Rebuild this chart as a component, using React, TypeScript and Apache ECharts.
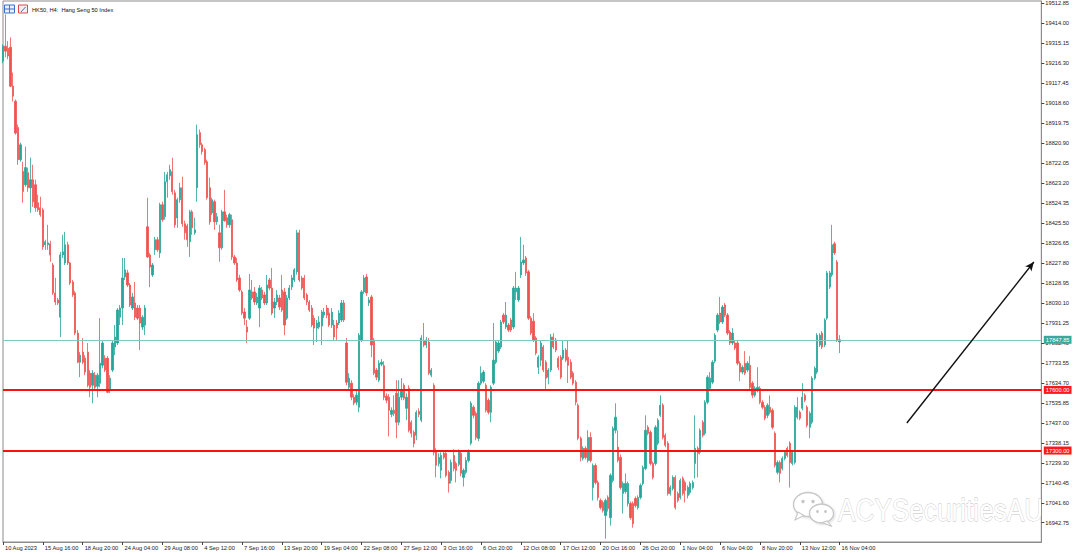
import { useEffect, useRef } from 'react';
import * as echarts from 'echarts';

// [open, close, low, high] per 4-hour bar
const candles: number[][] = [
  [19227,19301,19216,19310],[19301,19276,19246,19458],[19290,19252,19236,19326],[19295,19103,19098,19344],
  [19103,19053,19027,19170],[19028,18871,18863,19037],[18898,18739,18714,18913],[18739,18813,18729,18823],
  [18681,18582,18526,18729],[18615,18700,18605,18804],[18675,18600,18580,18700],[18600,18640,18476,18749],
  [18640,18531,18506,18714],[18615,18501,18481,18640],[18526,18491,18481,18566],[18501,18467,18457,18556],
  [18491,18308,18293,18501],[18318,18333,18293,18343],[18318,18328,18293,18417],[18323,18268,18234,18338],
  [18218,18080,18070,18228],[18080,18035,18020,18154],[18045,18030,18020,18055],[17960,18268,17861,18283],
  [18268,18283,18253,18367],[18228,18318,18218,18382],[18318,18228,18218,18333],[18228,18129,18119,18233],
  [18134,18070,18060,18144],[18080,17881,17871,18090],[17881,17737,17732,17896],[17737,17772,17663,17787],
  [17787,17737,17727,17856],[17757,17688,17673,17772],[17787,17623,17613,17832],[17683,17613,17564,17698],
  [17623,17683,17534,17698],[17673,17613,17603,17688],[17618,17673,17564,17683],[17633,17732,17613,17955],
  [17722,17832,17707,17847],[17757,17698,17688,17772],[17757,17588,17584,17767],[17598,17658,17584,17673],
  [17698,17832,17688,17847],[17812,17862,17772,17921],[17832,17995,17822,18005],[17960,18005,17921,18020],
  [18005,18154,17921,18253],[18159,18194,18144,18253],[18179,18119,18109,18194],[18119,18020,18010,18129],
  [18005,18060,17995,18080],[18030,17960,17946,18134],[18005,17955,17946,18020],[18005,17931,17797,18020],
  [17911,17960,17896,17970],[17921,18005,17871,18020],[18407,18258,18253,18551],[18268,18208,18109,18278],
  [18169,18218,18159,18228],[18293,18343,18268,18357],[18343,18293,18283,18357],[18278,18516,18253,18526],
  [18516,18442,18432,18531],[18457,18630,18442,18679],[18630,18665,18551,18679],[18660,18690,18640,18714],
  [18680,18580,18566,18749],[18575,18417,18402,18590],[18451,18541,18402,18551],[18541,18600,18526,18625],
  [18600,18422,18407,18655],[18422,18377,18343,18437],[18412,18343,18308,18422],[18333,18481,18258,18491],
  [18481,18402,18367,18491],[18377,18392,18367,18452],[18600,18863,18531,18913],[18873,18813,18798,18888],
  [18813,18779,18764,18823],[18789,18724,18714,18798],[18729,18551,18541,18739],[18600,18432,18417,18650],
  [18476,18541,18466,18551],[18531,18432,18392,18541],[18432,18457,18417,18476],[18377,18303,18234,18417],
  [18303,18481,18293,18491],[18481,18437,18432,18590],[18452,18417,18402,18467],[18417,18467,18402,18476],
  [18442,18258,18243,18467],[18258,18228,18218,18268],[18228,18144,18134,18253],[18154,18094,18085,18169],
  [18085,17980,17970,18094],[17985,17955,17921,18005],[17911,17886,17832,17946],[17955,18094,17946,18174],
  [18085,18055,18045,18144],[18085,18035,18020,18109],[18030,18060,18020,18080],[18005,18104,17911,18119],
  [18094,18055,18045,18109],[18070,18030,18020,18085],[18030,18119,18020,18169],[18144,18104,18094,18154],
  [18104,17980,17970,18203],[18005,18035,17956,18055],[18035,18070,18020,18094],[18055,18010,17995,18070],
  [18094,17995,17985,18169],[18085,17921,17871,18104],[17955,18055,17946,18070],[18055,18104,18045,18119],
  [18109,18154,18094,18169],[18144,18194,18134,18203],[18184,18377,18170,18392],[18377,18144,18134,18392],
  [18154,18104,18094,18164],[18154,18055,18045,18169],[18070,18035,18020,18080],[18035,17995,17985,18045],
  [18005,17921,17911,18020],[17955,17906,17822,17970],[17906,17931,17837,17946],[17911,17936,17901,17965],
  [17916,17985,17822,17995],[17970,17985,17955,18005],[18005,17970,17955,18020],[17980,17921,17911,18005],
  [17921,17985,17906,18005],[17921,17862,17847,17946],[17931,17906,17842,17946],[17931,17980,17921,17995],
  [17946,18030,17936,18045],[18030,17946,17936,18045],[17832,17638,17623,17857],[17613,17658,17598,17683],
  [17633,17564,17549,17648],[17564,17534,17524,17579],[17539,17574,17524,17598],[17514,17871,17489,17881],
  [17847,18085,17837,18094],[18085,18154,18075,18169],[18159,18080,18065,18174],[18030,18045,18015,18060],
  [18060,17822,17762,18070],[17847,17683,17673,17857],[17698,17663,17648,17708],[17648,17732,17638,17747],
  [17727,17737,17717,17752],[17720,17564,17549,17742],[17569,17549,17534,17583],[17564,17499,17370,17579],
  [17479,17499,17465,17514],[17499,17484,17470,17573],[17583,17440,17361,17648],[17440,17564,17425,17648],
  [17564,17598,17549,17658],[17623,17559,17549,17633],[17509,17564,17450,17583],[17608,17400,17390,17623],
  [17440,17385,17365,17450],[17390,17335,17316,17400],[17375,17489,17351,17499],[17494,17479,17465,17509],
  [17450,17857,17440,17871],[17842,17822,17812,17931],[17822,17847,17807,17862],[17837,17683,17673,17857],
  [17673,17698,17663,17708],[17623,17291,17276,17633],[17301,17227,17167,17311],[17236,17266,17221,17286],
  [17202,17276,17162,17291],[17286,17266,17256,17301],[17286,17177,17167,17301],[17192,17137,17092,17202],
  [17152,17241,17137,17256],[17276,17211,17197,17306],[17236,17202,17142,17246],[17231,17296,17221,17306],
  [17286,17187,17172,17301],[17167,17202,17122,17211],[17192,17251,17182,17266],[17251,17291,17241,17306],
  [17336,17534,17326,17544],[17514,17474,17460,17524],[17484,17365,17351,17494],[17360,17633,17346,17643],
  [17633,17683,17623,17717],[17643,17688,17633,17698],[17623,17499,17489,17633],[17549,17489,17479,17559],
  [17489,17613,17440,17623],[17633,17747,17623,17931],[17737,17837,17727,17847],[17792,17832,17782,17842],
  [17812,17936,17802,17946],[17970,17936,17926,17980],[17911,17970,17901,18035],[17921,17896,17886,17931],
  [17946,17896,17886,17956],[17911,18104,17901,18114],[18085,18104,18045,18184],[18045,18104,18035,18114],
  [18169,18233,18154,18357],[18228,18243,18218,18318],[18253,18179,18164,18263],[18184,17955,17946,18194],
  [17955,17881,17871,17965],[17940,17847,17837,17980],[17857,17782,17772,17866],[17712,17762,17678,17772],
  [17747,17832,17717,17842],[17812,17698,17688,17822],[17737,17658,17598,17747],[17663,17698,17628,17708],
  [17698,17862,17688,17877],[17862,17812,17802,17881],[17847,17797,17787,17857],[17757,17712,17698,17767],
  [17762,17663,17653,17772],[17757,17797,17747,17847],[17797,17747,17737,17807],[17762,17722,17634,17847],
  [17737,17663,17653,17752],[17683,17633,17623,17693],[17638,17539,17524,17648],[17524,17361,17351,17534],
  [17361,17266,17246,17370],[17261,17311,17251,17321],[17311,17266,17256,17321],[17251,17365,17241,17400],
  [17365,17251,17241,17390],[17117,17226,17053,17236],[17226,17142,17132,17236],[17142,17068,17053,17152],
  [17053,17018,17008,17063],[17043,17003,16993,17053],[16978,17053,16864,17063],[17068,17013,16998,17078],
  [16968,17177,16928,17187],[17152,17410,17142,17420],[17400,17465,17385,17534],[17316,17251,17241,17400],
  [17266,17117,17107,17281],[17087,17137,16988,17147],[17097,17137,17087,17187],[17038,17137,17023,17147],
  [17038,16968,16958,17048],[17038,16938,16918,17048],[17063,17028,17018,17073],[17018,17068,17008,17078],
  [17068,17127,17058,17137],[17137,17216,17127,17226],[17211,17400,17202,17474],[17415,17385,17375,17425],
  [17390,17236,17226,17400],[17236,17167,17157,17246],[17236,17415,17226,17425],[17336,17450,17326,17460],
  [17474,17524,17465,17573],[17524,17365,17355,17534],[17375,17326,17316,17385],[17336,17087,17077,17346],
  [17087,17117,17077,17127],[17112,17167,17102,17177],[17167,17018,17008,17177],[17087,17053,17043,17097],
  [17068,17152,17058,17162],[17162,17087,17077,17172],[17142,17102,17043,17152],[17078,17117,17063,17127],
  [17092,17137,17082,17147],[17117,17142,17107,17152],[17236,17311,17162,17474],[17311,17286,17167,17321],
  [17291,17400,17281,17410],[17440,17375,17365,17450],[17385,17539,17375,17549],[17539,17663,17529,17673],
  [17608,17658,17598,17688],[17638,17737,17628,17747],[17742,17871,17732,17881],[17896,17970,17886,17980],
  [17980,17936,17926,18060],[17936,18010,17926,18020],[18020,17970,17960,18030],[17970,17881,17871,17980],
  [17886,17832,17822,17896],[17832,17881,17822,17906],[17832,17807,17797,17842],[17832,17732,17722,17842],
  [17732,17688,17643,17742],[17688,17712,17678,17722],[17732,17683,17673,17792],[17698,17732,17688,17742],
  [17722,17613,17603,17767],[17633,17574,17559,17643],[17574,17608,17564,17618],[17598,17613,17588,17712],
  [17608,17539,17529,17618],[17539,17514,17504,17549],[17514,17460,17450,17524],[17474,17524,17460,17534],
  [17514,17489,17479,17573],[17499,17415,17405,17509],[17385,17227,17216,17395],[17192,17241,17182,17251],
  [17241,17187,17142,17251],[17211,17261,17202,17271],[17261,17291,17251,17301],[17311,17276,17266,17321],
  [17336,17241,17117,17346],[17236,17291,17226,17301],[17241,17514,17231,17524],[17465,17514,17455,17564],
  [17489,17460,17450,17499],[17509,17564,17499,17633],[17573,17549,17539,17583],[17514,17425,17415,17524],
  [17415,17484,17361,17494],[17440,17658,17430,17668],[17658,17707,17648,17717],[17688,17871,17678,17881],
  [17822,17871,17812,17881],[17881,17812,17802,17891],[17822,17946,17812,17955],[17955,18179,17946,18189],
  [18109,18179,18099,18189],[18169,18318,18159,18417],[18323,18278,18268,18333],[18233,17847,17837,18243],
  [17837,17848,17782,17871],
];

const timeLabels = [
  '10 Aug 2023', '15 Aug 16:00', '18 Aug 20:00', '24 Aug 04:00', '29 Aug 08:00', '4 Sep 12:00',
  '7 Sep 16:00', '13 Sep 20:00', '19 Sep 04:00', '22 Sep 08:00', '27 Sep 12:00', '3 Oct 16:00',
  '6 Oct 20:00', '12 Oct 08:00', '17 Oct 12:00', '20 Oct 16:00', '26 Oct 20:00', '1 Nov 04:00',
  '6 Nov 04:00', '8 Nov 20:00', '13 Nov 12:00', '16 Nov 04:00',
];
const barsPerTimeLabel = 16;
const totalSlots = 418; // bars plus empty right shift

const priceTicks = [
  19512.85, 19414.0, 19315.15, 19216.3, 19117.45, 19018.6, 18919.75, 18820.9, 18722.05,
  18623.2, 18524.35, 18425.5, 18326.65, 18227.8, 18128.95, 18030.1, 17931.25, 17832.4,
  17733.55, 17634.7, 17535.85, 17437.0, 17338.15, 17239.3, 17140.45, 17041.6, 16942.75,
];
const priceMin = 16847.4;
const priceMax = 19524.3;

const bidPrice = 17847.85;
const levelPrices = [17600, 17300];
const arrowFrom = [363, 17436];
const arrowTo = [414, 18233];

const FONT = '"Liberation Sans", Arial, sans-serif';

export default function App() {
  const ref = useRef<HTMLDivElement>(null);
  useEffect(() => {
    document.body.style.margin = '0';
    const chart = echarts.init(ref.current!, null, { renderer: 'svg' });
    const categories = Array.from({ length: totalSlots }, (_, i) => String(i));
    const showTime = (i: number) => i % barsPerTimeLabel === 0 && i / barsPerTimeLabel < timeLabels.length;

    const tagLabel = (bg: string) => ({
      show: true,
      position: 'end',
      distance: 2.5,
      formatter: (p: any) => Number(p.value).toFixed(2),
      color: '#ffffff',
      fontSize: 5.7,
      fontFamily: FONT,
      backgroundColor: bg,
      padding: [1, 2, 1, 2],
    });

    const wechatStroke = '#c6c6c6';
    const shadow = { shadowColor: 'rgba(0,0,0,0.15)', shadowBlur: 2, shadowOffsetX: 1, shadowOffsetY: 1 };

    chart.setOption({
      animation: false,
      backgroundColor: '#ffffff',
      textStyle: { fontFamily: FONT },
      grid: { left: 3, right: 38.7, top: 1, bottom: 15, show: true, borderColor: '#8c8c8c', borderWidth: 1, backgroundColor: '#ffffff' },
      xAxis: {
        type: 'category',
        data: categories,
        boundaryGap: false,
        axisLine: { show: true, lineStyle: { color: '#8c8c8c', width: 1 } },
        axisTick: { show: true, interval: (i: number) => showTime(i), length: 3, lineStyle: { color: '#444' } },
        axisLabel: {
          interval: (i: number) => showTime(i),
          formatter: (_v: string, i: number) => timeLabels[i / barsPerTimeLabel] ?? '',
          align: 'left',
          padding: [0, 0, 0, 2],
          margin: 3,
          fontSize: 5.7,
          color: '#1a1a1a',
          fontFamily: FONT,
        },
        splitLine: { show: false },
      },
      yAxis: {
        type: 'value',
        position: 'right',
        min: priceMin,
        max: priceMax,
        axisLine: { show: true, lineStyle: { color: '#8c8c8c', width: 1 } },
        axisTick: { show: true, customValues: priceTicks, length: 3, lineStyle: { color: '#444' } },
        axisLabel: {
          customValues: priceTicks,
          formatter: (v: number) => v.toFixed(2),
          fontSize: 5.7,
          margin: 4,
          color: '#1a1a1a',
          fontFamily: FONT,
        },
        splitLine: { show: false },
      },
      series: [
        {
          type: 'candlestick',
          data: candles,
          barWidth: 1.8,
          silent: true,
          itemStyle: {
            color: '#26a69a',
            color0: '#ef5350',
            borderColor: 'rgba(38,166,154,0.8)',
            borderColor0: 'rgba(239,83,80,0.8)',
            borderWidth: 1,
          },
          markLine: {
            silent: true,
            symbol: ['none', 'none'],
            animation: false,
            data: [
              { yAxis: bidPrice, lineStyle: { color: '#7fc9c0', width: 1, type: 'solid' }, label: tagLabel('#3aa99c') },
              ...levelPrices.map((p) => ({
                yAxis: p,
                lineStyle: { color: '#ff1010', width: 2, type: 'solid' },
                label: tagLabel('#ff1a1a'),
              })),
              [
                { coord: arrowFrom, symbol: 'none' },
                {
                  coord: arrowTo,
                  symbol: 'arrow',
                  symbolSize: [6, 9],
                  lineStyle: { color: '#111111', width: 1.4, type: 'solid' },
                  label: { show: false },
                },
              ],
            ],
          },
        },
      ],
      graphic: [
        { type: 'rect', shape: { x: 4.5, y: 5, width: 10, height: 8 }, style: { fill: '#eaf1fb', stroke: '#3b6fc9', lineWidth: 1 } },
        { type: 'line', shape: { x1: 4.5, y1: 9, x2: 14.5, y2: 9 }, style: { stroke: '#3b6fc9', lineWidth: 1 } },
        { type: 'line', shape: { x1: 9.5, y1: 5, x2: 9.5, y2: 13 }, style: { stroke: '#e04848', lineWidth: 1 } },
        { type: 'rect', shape: { x: 18.5, y: 5, width: 9, height: 8 }, style: { fill: '#fdecec', stroke: '#d94b4b', lineWidth: 1 } },
        { type: 'line', shape: { x1: 21, y1: 12, x2: 25.5, y2: 7 }, style: { stroke: '#3b6fc9', lineWidth: 1 } },
        {
          type: 'text',
          x: 32,
          y: 10,
          style: { text: 'HK50, H4:  Hang Seng 50 Index', fontSize: 5.7, fill: '#111', fontFamily: FONT, verticalAlign: 'middle' },
        },
        // watermark
        { type: 'ellipse', shape: { cx: 808, cy: 504.5, rx: 14.5, ry: 12 }, style: { fill: '#ffffff', stroke: wechatStroke, lineWidth: 1.3, ...shadow } },
        { type: 'polygon', shape: { points: [[798, 512], [795, 520], [804, 515.5]] }, style: { fill: '#ffffff', stroke: wechatStroke, lineWidth: 1.1 } },
        { type: 'circle', shape: { cx: 803, cy: 501.5, r: 1.7 }, style: { fill: wechatStroke } },
        { type: 'circle', shape: { cx: 813, cy: 501.5, r: 1.7 }, style: { fill: wechatStroke } },
        { type: 'ellipse', shape: { cx: 821.5, cy: 513.5, rx: 12, ry: 9.5 }, style: { fill: '#ffffff', stroke: wechatStroke, lineWidth: 1.3, ...shadow } },
        { type: 'polygon', shape: { points: [[827, 521], [832, 526.5], [822.5, 522.5]] }, style: { fill: '#ffffff', stroke: wechatStroke, lineWidth: 1.1 } },
        { type: 'circle', shape: { cx: 817.5, cy: 511.5, r: 1.4 }, style: { fill: wechatStroke } },
        { type: 'circle', shape: { cx: 825.5, cy: 511.5, r: 1.4 }, style: { fill: wechatStroke } },
        {
          type: 'text',
          x: 838,
          y: 510.5,
          scaleX: 0.845,
          style: {
            text: 'ACYSecuritiesAU',
            fontSize: 31,
            fontFamily: FONT,
            fill: '#ffffff',
            stroke: '#c4c4c4',
            lineWidth: 0.8,
            verticalAlign: 'middle',
            ...shadow,
          },
        },
      ],
    });
    return () => chart.dispose();
  }, []);
  return <div ref={ref} style={{ position: 'absolute', left: 0, top: 0, width: 1080, height: 557 }} />;
}
